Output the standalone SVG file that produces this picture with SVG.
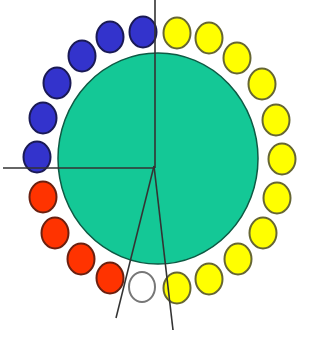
<svg xmlns="http://www.w3.org/2000/svg" width="321" height="337" viewBox="0 0 321 337">
<style>
.big{fill:#14c896;stroke:#0e5a44;stroke-width:1.5}
.b{fill:#3333cc;stroke:#1a1a55;stroke-width:2}
.y{fill:#ffff00;stroke:#666633;stroke-width:2}
.r{fill:#ff3300;stroke:#6a2010;stroke-width:2}
.w{fill:#ffffff;stroke:#777777;stroke-width:2}
.ln{stroke:#333333;stroke-width:1.6;fill:none}
</style>
<rect width="321" height="337" fill="#ffffff"/>
<g id="center"><ellipse class="big" cx="158" cy="158.5" rx="100" ry="105.5"/></g>
<g id="blue">
<g id="b1"><ellipse class="b" cx="143" cy="32" rx="13.5" ry="15.5"/></g>
<g id="b2"><ellipse class="b" cx="110" cy="37" rx="13.5" ry="15.5"/></g>
<g id="b3"><ellipse class="b" cx="82" cy="56" rx="13.5" ry="15.5"/></g>
<g id="b4"><ellipse class="b" cx="57" cy="83" rx="13.5" ry="15.5"/></g>
<g id="b5"><ellipse class="b" cx="43" cy="118" rx="13.5" ry="15.5"/></g>
<g id="b6"><ellipse class="b" cx="37" cy="157" rx="13.5" ry="15.5"/></g>
</g>
<g id="yellow">
<g id="y1"><ellipse class="y" cx="177" cy="33" rx="13.5" ry="15.5"/></g>
<g id="y2"><ellipse class="y" cx="209" cy="38" rx="13.5" ry="15.5"/></g>
<g id="y3"><ellipse class="y" cx="237" cy="58" rx="13.5" ry="15.5"/></g>
<g id="y4"><ellipse class="y" cx="262" cy="84" rx="13.5" ry="15.5"/></g>
<g id="y5"><ellipse class="y" cx="276" cy="120" rx="13.5" ry="15.5"/></g>
<g id="y6"><ellipse class="y" cx="282" cy="159" rx="13.5" ry="15.5"/></g>
<g id="y7"><ellipse class="y" cx="277" cy="198" rx="13.5" ry="15.5"/></g>
<g id="y8"><ellipse class="y" cx="263" cy="233" rx="13.5" ry="15.5"/></g>
<g id="y9"><ellipse class="y" cx="238" cy="259" rx="13.5" ry="15.5"/></g>
<g id="y10"><ellipse class="y" cx="209" cy="279" rx="13.5" ry="15.5"/></g>
<g id="y11"><ellipse class="y" cx="177" cy="288" rx="13.5" ry="15.5"/></g>
</g>
<g id="white"><ellipse class="w" cx="142" cy="287" rx="13" ry="15"/></g>
<g id="red">
<g id="r1"><ellipse class="r" cx="43" cy="197" rx="13.5" ry="15.5"/></g>
<g id="r2"><ellipse class="r" cx="55" cy="233" rx="13.5" ry="15.5"/></g>
<g id="r3"><ellipse class="r" cx="81" cy="259" rx="13.5" ry="15.5"/></g>
<g id="r4"><ellipse class="r" cx="110" cy="278" rx="13.5" ry="15.5"/></g>
</g>
<g id="connectors">
<line class="ln" x1="155" y1="0" x2="155" y2="168"/>
<line class="ln" x1="3" y1="168" x2="155" y2="168"/>
<line class="ln" x1="154" y1="166" x2="116" y2="318"/>
<line class="ln" x1="154" y1="166" x2="173" y2="330"/>
</g>
</svg>
